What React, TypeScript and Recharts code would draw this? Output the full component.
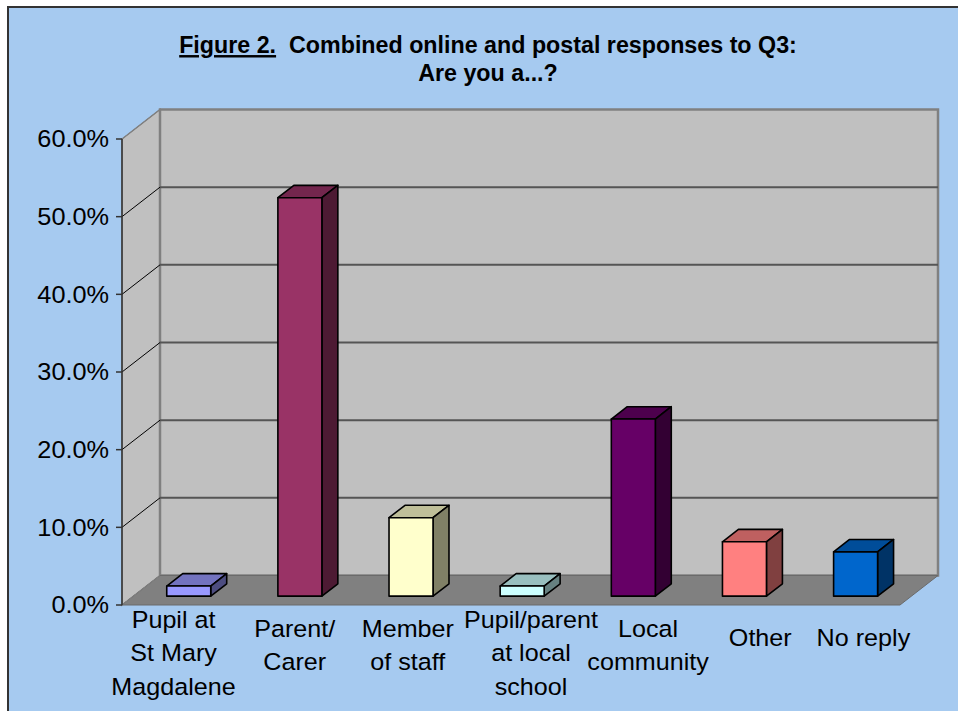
import React from "react";
import { BarChart, Bar, XAxis, YAxis, CartesianGrid, ReferenceArea } from "recharts";

const categories = [
  "Pupil at St Mary Magdalene",
  "Parent/ Carer",
  "Member of staff",
  "Pupil/parent at local school",
  "Local community",
  "Other",
  "No reply",
];

const labelLines = [
  ["Pupil at", "St Mary", "Magdalene"],
  ["Parent/", "Carer"],
  ["Member", "of staff"],
  ["Pupil/parent", "at local", "school"],
  ["Local", "community"],
  ["Other"],
  ["No reply"],
];

const shares = [0.013, 0.513, 0.101, 0.013, 0.228, 0.07, 0.057];

const yTicks = [0, 0.1, 0.2, 0.3, 0.4, 0.5, 0.6];

const barColors = ["#9999FF", "#993366", "#FFFFCC", "#CCFFFF", "#660066", "#FF8080", "#0066CC"];

// excel places the category texts a bit off the band centres
const labelNudge = [-4, 6, 8, 20, 26, 27, 19];

const data = categories.map((name, i) => ({ name, share: shares[i] }));

// 3d look: full depth of the box and where the bars sit inside it
const DX = 38;
const DY = -29.5;
const BAR_FRONT = 0.3;
const BAR_DEPTH = 0.42;

const FONT = "'Liberation Sans', Arial, sans-serif";

const shade = (hex: string, k: number) => {
  const n = parseInt(hex.slice(1), 16);
  const r = Math.round(((n >> 16) & 255) * k);
  const g = Math.round(((n >> 8) & 255) * k);
  const b = Math.round((n & 255) * k);
  return `rgb(${r},${g},${b})`;
};

const Walls = (props: any) => {
  const { x, y, width, height } = props;
  const l = x;
  const r = x + width;
  const t = y;
  const b = y + height;
  return (
    <g>
      <polygon
        points={`${l},${b} ${l},${t} ${l + DX},${t + DY} ${l + DX},${b + DY}`}
        fill="#C0C0C0"
        stroke="#808080"
        strokeWidth={1.5}
      />
      <rect x={l + DX} y={t + DY} width={width} height={height} fill="#C0C0C0" stroke="#808080" strokeWidth={2.5} />
      <polygon
        points={`${l},${b} ${r},${b} ${r + DX},${b + DY} ${l + DX},${b + DY}`}
        fill="#808080"
        stroke="#6a6a6a"
        strokeWidth={1}
      />
    </g>
  );
};

const GridLine = (props: any) => {
  const { x1, x2, y1, y, height } = props;
  const isEdge = y != null && height != null && (Math.abs(y1 - y) < 1 || Math.abs(y1 - (y + height)) < 1);
  return (
    <g key={props.key}>
      <line x1={x1} y1={y1} x2={x1 + DX} y2={y1 + DY} stroke={isEdge ? "#808080" : "#000"} strokeWidth={1} />
      {!isEdge && (
        <line x1={x1 + DX} y1={y1 + DY} x2={x2 + DX} y2={y1 + DY} stroke="#555" strokeWidth={2} />
      )}
    </g>
  );
};

const Bar3D = (props: any) => {
  const { x, y, width, height, index } = props;
  if (width == null || height == null) return null;
  const fx = x + DX * BAR_FRONT;
  const fy = y + DY * BAR_FRONT;
  const bx = DX * BAR_DEPTH;
  const by = DY * BAR_DEPTH;
  const c = barColors[index];
  return (
    <g stroke="#000" strokeWidth={1.6} strokeLinejoin="round">
      <polygon
        points={`${fx},${fy} ${fx + width},${fy} ${fx + width + bx},${fy + by} ${fx + bx},${fy + by}`}
        fill={shade(c, 0.75)}
      />
      <polygon
        points={`${fx + width},${fy} ${fx + width + bx},${fy + by} ${fx + width + bx},${fy + height + by} ${fx + width},${fy + height}`}
        fill={shade(c, 0.5)}
      />
      <rect x={fx} y={fy} width={width} height={height} fill={c} />
    </g>
  );
};

const CategoryTick = (props: any) => {
  const { x, y, payload } = props;
  const i = payload?.index ?? props.index ?? 0;
  const lines = labelLines[i];
  const cx = x + labelNudge[i];
  const first = y + 23 + (3 - lines.length) * 9;
  return (
    <text
      textAnchor="middle"
      fontSize={23.5}
      fontFamily={FONT}
      fill="#000"
      transform={`translate(${cx},0) scale(1.07,1) translate(${-cx},0)`}
    >
      {lines.map((line, k) => (
        <tspan key={k} x={cx} y={first + k * 33.5}>
          {line}
        </tspan>
      ))}
    </text>
  );
};

const ValueTick = (props: any) => {
  const { x, y, payload } = props;
  return (
    <text
      x={x}
      y={y}
      dy="0.36em"
      textAnchor="end"
      fontSize={23}
      fontFamily={FONT}
      fill="#000"
      transform={`translate(${x},0) scale(1.1,1) translate(${-x},0)`}
    >
      {(payload.value * 100).toFixed(1) + "%"}
    </text>
  );
};

export default function App() {
  return (
    <div style={{ position: "absolute", left: 0, top: 0, width: 958, height: 711, overflow: "hidden", background: "#fff" }}>
      <div
        style={{
          position: "absolute",
          left: 7,
          top: 6,
          right: 0,
          bottom: 0,
          background: "#A6CAF0",
          borderLeft: "2px solid #333",
          borderTop: "2px solid #333",
        }}
      />
      <div style={{ position: "absolute", left: 0, top: 0 }}>
        <BarChart
          width={958}
          height={711}
          data={data}
          margin={{ top: 139, right: 58, bottom: 6, left: 22 }}
          barCategoryGap="30%"
        >
          <ReferenceArea y1={0} y2={0.6} shape={Walls} ifOverflow="visible" zIndex={-200} />
          <CartesianGrid vertical={false} horizontal={GridLine} />
          <XAxis
            dataKey="name"
            axisLine={false}
            tickLine={false}
            tickSize={0}
            tickMargin={0}
            interval={0}
            height={100}
            tick={CategoryTick}
          />
          <YAxis
            domain={[0, 0.6]}
            ticks={yTicks}
            width={100}
            axisLine={{ stroke: "#333", strokeWidth: 1.5 }}
            tickLine={{ stroke: "#333", strokeWidth: 1.5 }}
            tickSize={6}
            tickMargin={7}
            tick={ValueTick}
          />
          <Bar dataKey="share" shape={Bar3D} isAnimationActive={false} />
        </BarChart>
      </div>
      <svg width={958} height={120} style={{ position: "absolute", left: 0, top: 0, pointerEvents: "none" }}>
        <text
          x={488}
          y={53}
          textAnchor="middle"
          fontSize={24.5}
          fontWeight="bold"
          fontFamily={FONT}
          fill="#000"
          transform="translate(488,0) scale(0.95,1) translate(-488,0)"
        >
          <tspan style={{ textDecoration: "underline" }}>Figure 2.</tspan>
          {"\u00a0 Combined online and postal responses to Q3:"}
        </text>
        <text
          x={488}
          y={81}
          textAnchor="middle"
          fontSize={24.5}
          fontWeight="bold"
          fontFamily={FONT}
          fill="#000"
          transform="translate(488,0) scale(0.95,1) translate(-488,0)"
        >
          Are you a...?
        </text>
      </svg>
    </div>
  );
}
